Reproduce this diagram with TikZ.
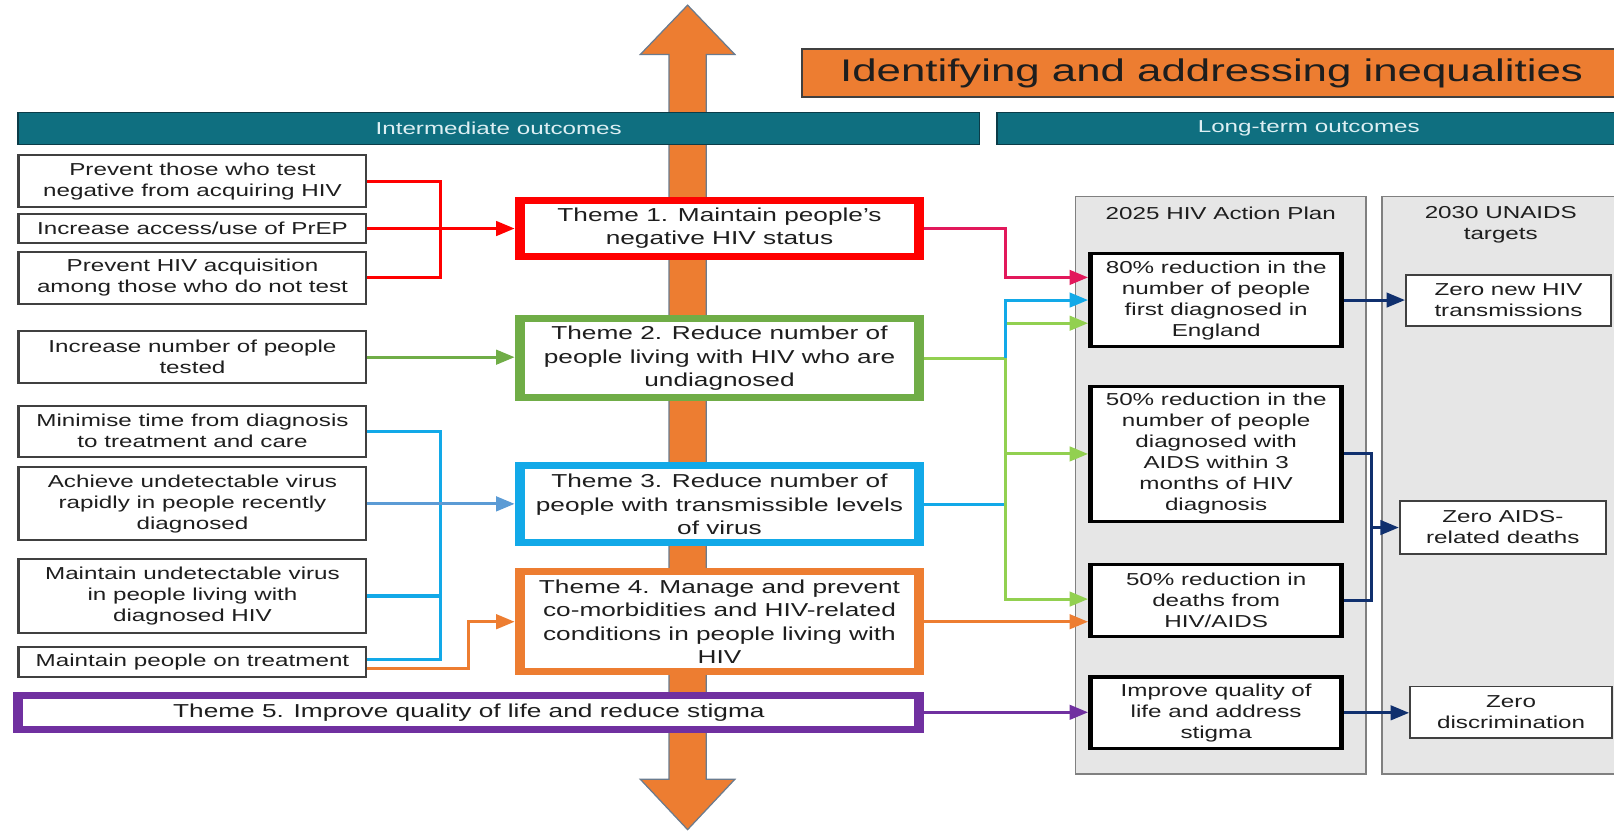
\documentclass[tikz,border=0pt]{standalone}
\usepackage{fontspec}
\setmainfont{Liberation Sans}[FakeStretch=1.4]
\usetikzlibrary{arrows.meta}
\definecolor{tealbar}{HTML}{0F6F80}
\definecolor{tealedge}{HTML}{0B3C48}
\definecolor{tealtext}{HTML}{DDEFF3}
\definecolor{orng}{HTML}{ED7D31}
\definecolor{arrowedge}{HTML}{6A7B8E}
\definecolor{txt}{HTML}{1E1E1E}
\definecolor{boxgrey}{HTML}{404040}
\definecolor{panelfill}{HTML}{E6E6E6}
\definecolor{paneledge}{HTML}{808080}
\definecolor{redc}{HTML}{FF0000}
\definecolor{crimson}{HTML}{E2185B}
\definecolor{greenc}{HTML}{70AD47}
\definecolor{lgreen}{HTML}{92D050}
\definecolor{cyanc}{HTML}{12A9E8}
\definecolor{steelc}{HTML}{5B9BD5}
\definecolor{purplec}{HTML}{7030A0}
\definecolor{navyc}{HTML}{10306E}
\begin{document}
\begin{tikzpicture}[x=0.5pt,y=-0.5pt,
  bodyfont/.style={font=\fontsize{8.4}{10.2}\selectfont},
  lbox/.style={draw=boxgrey, line width=1pt, fill=white, align=center, text=txt, bodyfont, minimum width=169pt, inner sep=1pt},
  theme/.style={draw=#1, line width=3.4pt, fill=white, align=center, text=txt, font=\fontsize{9.1}{11.3}\selectfont, minimum width=195.6pt, inner sep=1pt},
  abox/.style={draw=black, line width=1.6pt, fill=white, align=center, text=txt, bodyfont, minimum width=122.8pt, inner sep=1pt},
  ubox/.style={draw=boxgrey, line width=0.9pt, fill=white, align=center, text=txt, bodyfont, inner sep=1pt},
  panel/.style={draw=paneledge, line width=0.8pt, fill=panelfill},
  ptitle/.style={align=center, text=txt, bodyfont, inner sep=0pt},
  bar/.style={fill=tealbar, draw=tealedge, line width=0.6pt, text=tealtext, bodyfont, minimum height=15.4pt, inner sep=0pt},
  conn/.style={line width=1.5pt},
  arr/.style={conn, -{Triangle[length=9pt,width=7pt]}}
]
\useasboundingbox (0,0) rectangle (1568,809);
% big double arrow
\draw[fill=orng, draw=arrowedge, line width=0.6pt]
  (668,5) -- (714,53) -- (686,53) -- (686,757) -- (714,757) -- (668,806)
  -- (622,757) -- (650,757) -- (650,53) -- (622,53) -- cycle;
% title and header bars
\node[fill=orng, draw=boxgrey, line width=0.8pt, minimum width=398pt, minimum height=23.2pt, text=txt,
  font=\fontsize{15.2}{18}\selectfont] (title) at (1177,71) {Identifying and addressing inequalities};
\node[bar, minimum width=467pt] (IB) at (484.5,125) {Intermediate outcomes};
\node[bar, minimum width=303pt] (LB) at (1271.5,125) {Long-term outcomes};
% panels
\node[panel, minimum width=141.2pt, minimum height=280.5pt] (P1) at (1186,471.5) {};
\node[panel, minimum width=115.2pt, minimum height=280.5pt] (P2) at (1458,471.5) {};
\node[ptitle] (P1t) at (1186,207) {2025 HIV Action Plan};
\node[ptitle] (P2t) at (1458,218) {2030 UNAIDS\\targets};
% left boxes
\node[lbox, minimum height=25pt] (B1) at (187,176) {Prevent those who test\\negative from acquiring HIV};
\node[lbox, minimum height=14.5pt] (B2) at (187,222) {Increase access/use of PrEP};
\node[lbox, minimum height=25pt] (B3) at (187,270) {Prevent HIV acquisition\\among those who do not test};
\node[lbox, minimum height=25pt] (B4) at (187,347) {Increase number of people\\tested};
\node[lbox, minimum height=25pt] (B5) at (187,419) {Minimise time from diagnosis\\to treatment and care};
\node[lbox, minimum height=35.5pt] (B6) at (187,489.5) {Achieve undetectable virus\\rapidly in people recently\\diagnosed};
\node[lbox, minimum height=36pt] (B7) at (187,579) {Maintain undetectable virus\\in people living with\\diagnosed HIV};
\node[lbox, minimum height=14.5pt] (B8) at (187,643.5) {Maintain people on treatment};
% themes
\node[theme=redc, minimum height=27.1pt] (T1) at (699,222) {Theme 1. Maintain people’s\\negative HIV status};
\node[theme=greenc, minimum height=38.6pt] (T2) at (699,348) {Theme 2. Reduce number of\\people living with HIV who are\\undiagnosed};
\node[theme=cyanc, minimum height=37.3pt] (T3) at (699,490) {Theme 3. Reduce number of\\people with transmissible levels\\of virus};
\node[theme=orng, minimum height=48.6pt] (T4) at (699,604) {Theme 4. Manage and prevent\\co-morbidities and HIV-related\\conditions in people living with\\HIV};
\node[theme=purplec, minimum width=439.1pt, minimum height=16.6pt] (T5) at (455.5,692) {Theme 5. Improve quality of life and reduce stigma};
\foreach \n/\c in {T1/redc, T2/greenc, T3/cyanc, T4/orng, T5/purplec} {
  \fill[\c] (\n.north west) rectangle ([xshift=4.9pt]\n.south west);
  \fill[\c] (\n.north east) rectangle ([xshift=-4.9pt]\n.south east);
}
% action plan boxes
\node[abox, minimum height=45.4pt] (A1) at (1181.5,291.5) {80\% reduction in the\\number of people\\first diagnosed in\\England};
\node[abox, minimum height=65.4pt] (A2) at (1181.5,441) {50\% reduction in the\\number of people\\diagnosed with\\AIDS within 3\\months of HIV\\diagnosis};
\node[abox, minimum height=34.9pt] (A3) at (1181.5,583.5) {50\% reduction in\\deaths from\\HIV/AIDS};
\node[abox, minimum height=34.9pt] (A4) at (1181.5,692.5) {Improve quality of\\life and address\\stigma};
\foreach \n in {A1, A2, A3, A4} {
  \fill[black] (\n.north west) rectangle ([xshift=2.4pt]\n.south west);
  \fill[black] (\n.north east) rectangle ([xshift=-2.4pt]\n.south east);
}
% UNAIDS boxes
\node[ubox, minimum width=99.6pt, minimum height=25.1pt] (U1) at (1465.5,292) {Zero new HIV\\transmissions};
\node[ubox, minimum width=100.1pt, minimum height=25.6pt] (U2) at (1460,512.5) {Zero AIDS-\\related deaths};
\node[ubox, minimum width=98.1pt, minimum height=25.1pt] (U3) at (1468,692) {Zero\\discrimination};
% junction coordinates
\coordinate (r1) at (428,176);
\coordinate (r3) at (428,270);
\coordinate (bj5) at (428,419);
\coordinate (bj8) at (428,640.5);
\coordinate (oj) at (455,604);
\coordinate (c1) at (977,269.5);
\coordinate (g0) at (977,348);
\coordinate (g1) at (977,314);
\coordinate (g3) at (977,582);
\coordinate (b1) at (977,291.5);
\coordinate (nj) at (1332,512.5);
% left connectors
\draw[conn, redc] (B1.east) -- (r1) -- (r3) -- (B3.east);
\draw[arr, redc] (B2.east) -- (B2.east -| T1.west);
\draw[arr, greenc] (B4.east) -- (B4.east -| T2.west);
\draw[conn, cyanc] (B5.east) -- (bj5) -- (bj8) -- (bj8 -| B8.east);
\draw[conn, cyanc] (B7.east) -- (B7.east -| bj5);
\draw[arr, steelc] (B6.east) -- (B6.east -| T3.west);
\draw[arr, orng] ([yshift=-3pt]B8.east) -| (oj) -- (T4.west);
% right connectors
\draw[arr, crimson] (T1.east) -| (c1) -- (c1 -| A1.west);
\draw[arr, lgreen] (T2.east) -- (g0) -- (g1) -- (g1 -| A1.west);
\draw[arr, cyanc] (T3.east) -| (b1) -- (A1.west);
\draw[arr, lgreen] (g0) -- (g3) -- (g3 -| A3.west);
\draw[arr, lgreen] (g0 |- A2.west) -- (A2.west);
\draw[arr, orng] (T4.east) -- (T4.east -| A3.west);
\draw[arr, purplec] (T5.east) -- (T5.east -| A4.west);
\draw[arr, navyc] (A1.east) -- (A1.east -| U1.west);
\draw[conn, navyc] (A2.east) -| (nj);
\draw[conn, navyc] (A3.east) -| (nj);
\draw[arr, navyc] (nj) -- (nj -| U2.west);
\draw[arr, navyc] (A4.east) -- (A4.east -| U3.west);
\end{tikzpicture}
\end{document}
